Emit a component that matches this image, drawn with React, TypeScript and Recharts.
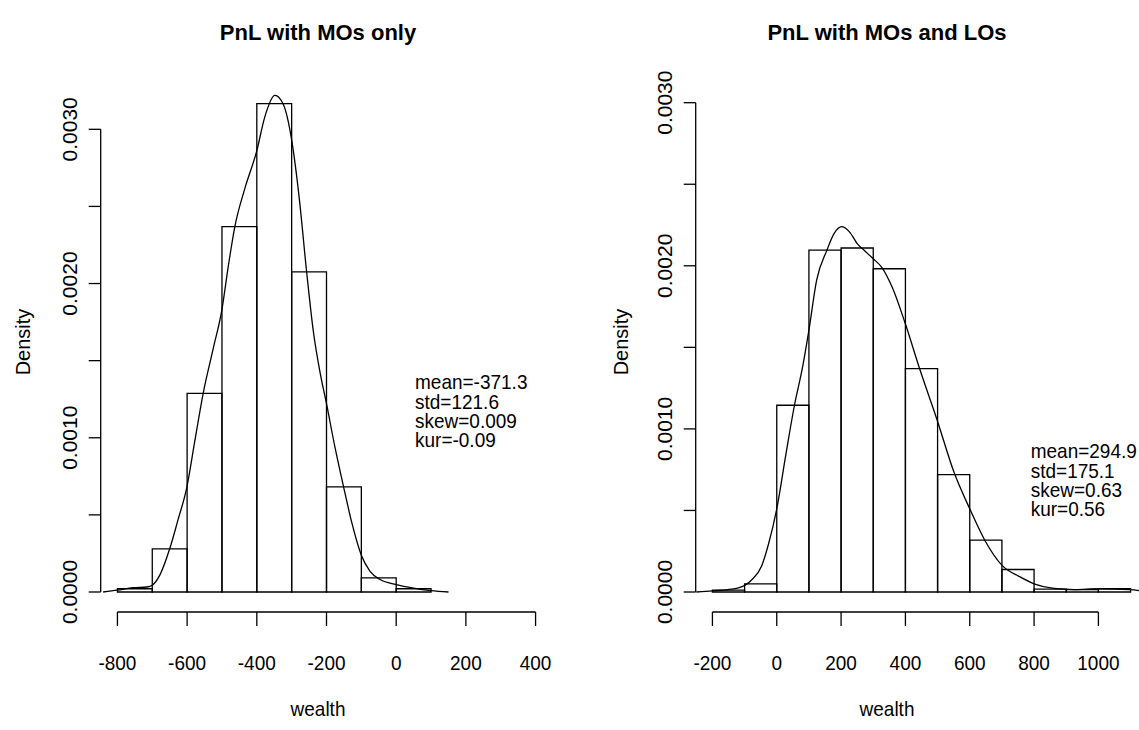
import React from 'react'
import { ComposedChart, Line, XAxis, YAxis, ReferenceArea, ReferenceLine } from 'recharts'

const FONT = '"Liberation Sans", Arial, Helvetica, sans-serif'

// histogram bins (width 100) and densities, left panel: MOs only
const leftBinStarts = [-800, -700, -600, -500, -400, -300, -200, -100, 0]
const leftBinDensity = [0.000021, 0.00028, 0.001288, 0.002369, 0.003167, 0.002076, 0.000682, 0.000092, 0.000021]
// kernel density curve
const leftCurveX = [-841, -800, -755, -715, -700, -678, -650, -626, -601, -578, -554, -525, -500, -482, -463, -434, -400, -377, -348, -324, -300, -278, -257, -238, -218, -201, -175, -151, -127, -100, -75, -46, 0, 50, 100, 150]
const leftCurveY = [0, 0.0000116, 0.0000277, 0.0000324, 0.0000439, 0.000111, 0.00028, 0.000469, 0.000677, 0.000978, 0.001287, 0.001579, 0.001833, 0.00211, 0.002369, 0.002619, 0.002861, 0.003081, 0.00322, 0.003162, 0.002931, 0.002549, 0.002075, 0.001694, 0.001417, 0.001232, 0.000931, 0.000682, 0.000446, 0.000238, 0.000134, 0.0000809, 0.0000485, 0.0000254, 0.0000092, 0]
const leftXTicks = [-800, -600, -400, -200, 0, 200, 400]
const leftStats = ['mean=-371.3', 'std=121.6', 'skew=0.009', 'kur=-0.09']

// right panel: MOs and LOs
const rightBinStarts = [-200, -100, 0, 100, 200, 300, 400, 500, 600, 700, 800, 900, 1000]
const rightBinDensity = [0.000011, 0.00005, 0.001145, 0.002096, 0.002109, 0.001982, 0.001369, 0.00072, 0.000318, 0.000138, 0.0000175, 0.000015, 0.00002]
const rightCurveX = [-250, -200, -122, -79, -47, -26, 0, 28, 55, 81, 100, 124, 156, 178, 202, 226, 252, 274, 300, 327, 359, 399, 445, 498, 552, 600, 648, 702, 755, 800, 862, 926, 1000, 1097, 1150]
const rightCurveY = [0, 0.0000066, 0.000024, 0.000072, 0.00016, 0.000291, 0.00051, 0.000839, 0.001145, 0.001386, 0.001605, 0.001912, 0.002096, 0.002197, 0.00224, 0.002208, 0.002131, 0.002091, 0.002043, 0.001989, 0.001868, 0.001649, 0.001364, 0.001058, 0.000729, 0.00051, 0.000313, 0.00016, 0.000094, 0.00005, 0.000022, 0.000015, 0.00002, 0.000015, 0]
const rightXTicks = [-200, 0, 200, 400, 600, 800, 1000]
const rightStats = ['mean=294.9', 'std=175.1', 'skew=0.63', 'kur=0.56']

const yTicks = [0, 0.0005, 0.001, 0.0015, 0.002, 0.0025, 0.003]
const yLabelled = [0, 0.001, 0.002, 0.003]
const BIN = 100
const NARROW = 0.95

const XTick = ({ x, y, payload }: any) => (
  <text x={0} y={0} transform={`translate(${x} ${y + 42}) scale(${NARROW} 1)`} textAnchor="middle" fontSize={20} fontFamily={FONT} fill="#000">
    {payload.value}
  </text>
)

const YTick = ({ x, y, payload }: any) => {
  if (!yLabelled.some((v) => Math.abs(v - payload.value) < 1e-9)) return null
  const bx = x - 10
  return (
    <text x={0} y={0} transform={`translate(${bx} ${y}) scale(${NARROW} 1) rotate(-90)`} textAnchor="middle" fontSize={21} fontFamily={FONT} fill="#000">
      {payload.value.toFixed(4)}
    </text>
  )
}

function Panel({ left, width, xDomain, yDomain, bins, dens, cx, cy, xTicks, axisFrom, axisTo }: any) {
  const data = cx.map((x: number, i: number) => ({ x, d: cy[i] }))
  return (
    <div style={{ position: 'absolute', left, top: 0 }}>
      <ComposedChart width={width} height={730} data={data} margin={{ top: 72, right: 17.7, bottom: 0, left: 40 }}>
        <XAxis type="number" dataKey="x" domain={xDomain} allowDataOverflow ticks={xTicks} interval={0} tickSize={14} axisLine={false} tickLine={{ stroke: '#000', strokeWidth: 1.3 }} tick={<XTick />} height={118} />
        <YAxis type="number" domain={yDomain} allowDataOverflow ticks={yTicks} interval={0} tickSize={12} axisLine={false} tickLine={{ stroke: '#000', strokeWidth: 1.3 }} tick={<YTick />} width={60.7} />
        <ReferenceLine segment={[{ x: xDomain[0], y: 0 }, { x: xDomain[0], y: 0.003 }]} stroke="#000" strokeWidth={1.3} ifOverflow="visible" />
        <ReferenceLine segment={[{ x: axisFrom, y: yDomain[0] }, { x: axisTo, y: yDomain[0] }]} stroke="#000" strokeWidth={1.3} ifOverflow="visible" />
        {bins.map((b: number, i: number) => (
          <ReferenceArea key={b} x1={b} x2={b + BIN} y1={0} y2={dens[i]} stroke="#000" strokeWidth={1.3} fill="none" fillOpacity={0} ifOverflow="visible" />
        ))}
        <Line type="monotone" dataKey="d" stroke="#000" strokeWidth={1.3} dot={false} activeDot={false} isAnimationActive={false} />
      </ComposedChart>
    </div>
  )
}

function Stats({ x, y, lines }: { x: number; y: number; lines: string[] }) {
  return (
    <>
      {lines.map((s, i) => (
        <text key={s} x={0} y={0} transform={`translate(${x} ${y + i * 19.3}) scale(${NARROW} 1)`} fontSize={20} fontFamily={FONT} fill="#000">
          {s}
        </text>
      ))}
    </>
  )
}

export default function App() {
  return (
    <div style={{ position: 'fixed', left: 0, top: 0, width: 1139, height: 730, overflow: 'hidden', background: '#fff' }}>
      <Panel left={0} width={570} xDomain={[-848, 448]} yDomain={[-0.0001297, 0.0033716]}
        bins={leftBinStarts} dens={leftBinDensity} cx={leftCurveX} cy={leftCurveY} xTicks={leftXTicks} axisFrom={-800} axisTo={400} />
      <Panel left={595.2} width={570} xDomain={[-252, 1152]} yDomain={[-0.0001226, 0.0031882]}
        bins={rightBinStarts} dens={rightBinDensity} cx={rightCurveX} cy={rightCurveY} xTicks={rightXTicks} axisFrom={-200} axisTo={1000} />
      <svg width={1139} height={730} style={{ position: 'absolute', left: 0, top: 0, pointerEvents: 'none' }}>
        <text x={318} y={40} textAnchor="middle" fontSize={22} fontWeight="bold" fontFamily={FONT}>PnL with MOs only</text>
        <text x={887} y={40} textAnchor="middle" fontSize={22} fontWeight="bold" fontFamily={FONT}>PnL with MOs and LOs</text>
        <text x={0} y={0} transform={`translate(318 716) scale(${NARROW} 1)`} textAnchor="middle" fontSize={20} fontFamily={FONT}>wealth</text>
        <text x={0} y={0} transform={`translate(887 716) scale(${NARROW} 1)`} textAnchor="middle" fontSize={20} fontFamily={FONT}>wealth</text>
        <text x={0} y={0} transform={`translate(30 342) rotate(-90)`} textAnchor="middle" fontSize={20} fontFamily={FONT}>Density</text>
        <text x={0} y={0} transform={`translate(628 342) rotate(-90)`} textAnchor="middle" fontSize={20} fontFamily={FONT}>Density</text>
        <Stats x={415} y={389.3} lines={leftStats} />
        <Stats x={1030.7} y={458.3} lines={rightStats} />
      </svg>
    </div>
  )
}
